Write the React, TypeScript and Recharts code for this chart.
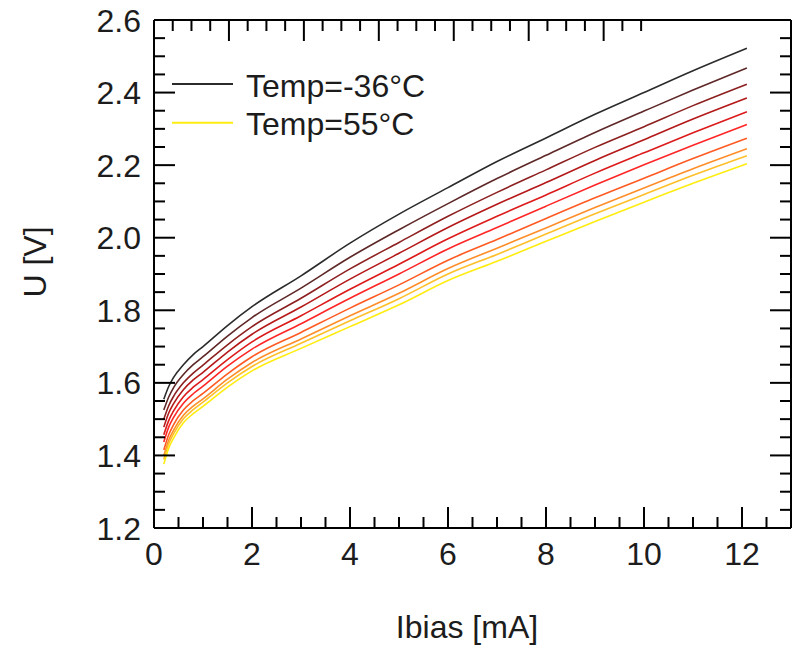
import React from 'react';
import { LineChart, Line, XAxis, YAxis, Legend } from 'recharts';

// Bias current [mA]
const IBIAS = [0.2, 0.3, 0.4, 0.6, 0.8, 1, 1.5, 2, 3, 4, 5, 6, 7, 8, 9, 10, 11, 12.1];

// Voltage curves [V], from coldest (-36°C) to hottest (55°C)
const U_T0 = [1.555, 1.59, 1.615, 1.65, 1.678, 1.7, 1.758, 1.81, 1.895, 1.985, 2.065, 2.138, 2.21, 2.275, 2.34, 2.4, 2.46, 2.522];
const U_T1 = [1.525, 1.561, 1.587, 1.623, 1.65, 1.672, 1.729, 1.78, 1.861, 1.946, 2.022, 2.094, 2.163, 2.227, 2.29, 2.349, 2.407, 2.468];
const U_T2 = [1.5, 1.537, 1.563, 1.6, 1.627, 1.649, 1.705, 1.755, 1.833, 1.914, 1.987, 2.059, 2.125, 2.187, 2.249, 2.306, 2.364, 2.423];
const U_T3 = [1.478, 1.517, 1.543, 1.581, 1.608, 1.629, 1.685, 1.734, 1.809, 1.886, 1.957, 2.028, 2.092, 2.152, 2.213, 2.27, 2.327, 2.385];
const U_T4 = [1.457, 1.496, 1.523, 1.562, 1.588, 1.609, 1.664, 1.713, 1.785, 1.858, 1.927, 1.997, 2.059, 2.118, 2.178, 2.234, 2.289, 2.347];
const U_T5 = [1.437, 1.478, 1.505, 1.544, 1.57, 1.591, 1.646, 1.693, 1.763, 1.833, 1.9, 1.969, 2.028, 2.087, 2.145, 2.201, 2.255, 2.312];
const U_T6 = [1.415, 1.457, 1.485, 1.525, 1.551, 1.571, 1.625, 1.672, 1.739, 1.806, 1.87, 1.938, 1.995, 2.053, 2.11, 2.164, 2.218, 2.274];
const U_T7 = [1.399, 1.442, 1.47, 1.511, 1.536, 1.556, 1.61, 1.656, 1.721, 1.785, 1.847, 1.915, 1.971, 2.027, 2.083, 2.137, 2.19, 2.245];
const U_T8 = [1.389, 1.432, 1.46, 1.501, 1.526, 1.547, 1.6, 1.645, 1.709, 1.771, 1.832, 1.9, 1.954, 2.01, 2.066, 2.119, 2.172, 2.226];
const U_T9 = [1.376, 1.42, 1.448, 1.49, 1.515, 1.535, 1.588, 1.633, 1.695, 1.755, 1.815, 1.882, 1.935, 1.99, 2.045, 2.098, 2.15, 2.204];

const SERIES = [U_T0, U_T1, U_T2, U_T3, U_T4, U_T5, U_T6, U_T7, U_T8, U_T9];
const COLORS = ['#2b2b2b', '#5e2828', '#8c2020', '#b41818', '#dc1a1a', '#ff2626', '#ff5a22', '#ff8e2a', '#ffbf2a', '#ffec10'];

const LEGEND_LABELS = ['Temp=-36°C', 'Temp=55°C'];
const X_MAJOR = [0, 2, 4, 6, 8, 10, 12];
const Y_MAJOR = [1.2, 1.4, 1.6, 1.8, 2.0, 2.2, 2.4, 2.6];
const X_TICKS = Array.from({ length: 27 }, (_, i) => i * 0.5);
const Y_TICKS = Array.from({ length: 29 }, (_, i) => Math.round((1.2 + i * 0.05) * 100) / 100);

const data = IBIAS.map((x, i) => {
  const row: any = { x };
  SERIES.forEach((s, k) => {
    row['c' + k] = s[i];
  });
  return row;
});

const FONT = 'Arial, "Liberation Sans", sans-serif';
const TXT = '#1c1c1c';
const FS = 32;
const MAJ = 21;
const MIN = 11;

const isMajX = (v: number) => X_MAJOR.some((m) => Math.abs(m - v) < 1e-6);
const isMajY = (v: number) => Y_MAJOR.some((m) => Math.abs(m - v) < 1e-6);

const BottomTick = (p: any) => {
  const { x, y, payload } = p;
  const v = payload.value;
  const major = isMajX(v);
  return (
    <g>
      <line x1={x} y1={y} x2={x} y2={y - (major ? MAJ : MIN)} stroke="#000" strokeWidth={2} />
      {major && (
        <text x={x} y={y + 37} textAnchor="middle" fontSize={FS} fontFamily={FONT} fill={TXT}>
          {String(v)}
        </text>
      )}
    </g>
  );
};

const TopTick = (p: any) => {
  const { x, y, payload } = p;
  const major = isMajX(payload.value);
  return <line x1={x} y1={y} x2={x} y2={y + (major ? MAJ : MIN)} stroke="#000" strokeWidth={2} />;
};

const LeftTick = (p: any) => {
  const { x, y, payload } = p;
  const v = payload.value;
  const major = isMajY(v);
  return (
    <g>
      <line x1={x} y1={y} x2={x + (major ? MAJ : MIN)} y2={y} stroke="#000" strokeWidth={2} />
      {major && (
        <text x={x - 13} y={y + 11.5} textAnchor="end" fontSize={FS} fontFamily={FONT} fill={TXT}>
          {v.toFixed(1)}
        </text>
      )}
    </g>
  );
};

const RightTick = (p: any) => {
  const { x, y, payload } = p;
  const major = isMajY(payload.value);
  return <line x1={x} y1={y} x2={x - (major ? MAJ : MIN)} y2={y} stroke="#000" strokeWidth={2} />;
};

const XTitle = (p: any) => {
  const vb = (p && p.viewBox) || { x: 154, y: 528, width: 637, height: 117 };
  return (
    <text x={vb.x + vb.width / 2 - 5.5} y={vb.y + 110} textAnchor="middle" fontSize={FS} fontFamily={FONT} fill={TXT}>
      Ibias [mA]
    </text>
  );
};

const YTitle = (p: any) => {
  const vb = (p && p.viewBox) || { x: 0, y: 20, width: 154, height: 508 };
  const cx = vb.x + 35;
  const cy = vb.y + vb.height / 2 - 12;
  return (
    <text
      x={cx}
      y={cy}
      transform={`rotate(-90, ${cx}, ${cy})`}
      textAnchor="middle"
      dominantBaseline="central"
      fontSize={FS}
      fontFamily={FONT}
      fill={TXT}
    >
      U [V]
    </text>
  );
};

const LegendBox = () => (
  <svg width={320} height={100} style={{ display: 'block', overflow: 'visible' }}>
    <line x1={0} y1={30} x2={61} y2={30} stroke={COLORS[0]} strokeWidth={2} />
    <text x={74} y={42.5} fontSize={FS} fontFamily={FONT} fill={TXT}>
      {LEGEND_LABELS[0]}
    </text>
    <line x1={0} y1={68.7} x2={61} y2={68.7} stroke={COLORS[9]} strokeWidth={2} />
    <text x={74} y={81} fontSize={FS} fontFamily={FONT} fill={TXT}>
      {LEGEND_LABELS[1]}
    </text>
  </svg>
);

export default function App() {
  return (
    <div style={{ position: 'absolute', left: 0, top: 0 }}>
      <LineChart width={798} height={645} data={data} margin={{ top: 19, right: 6, bottom: 0, left: 0 }}>
        <XAxis
          dataKey="x"
          type="number"
          domain={[0, 13]}
          ticks={X_TICKS}
          interval={0}
          allowDataOverflow
          height={117}
          tickSize={0}
          tickMargin={0}
          tickLine={false}
          axisLine={{ stroke: '#000', strokeWidth: 2 }}
          tick={<BottomTick />}
          label={XTitle}
        />
        <XAxis
          xAxisId="top"
          orientation="top"
          type="number"
          domain={[0, 13]}
          ticks={X_TICKS}
          interval={0}
          allowDataOverflow
          height={1}
          tickSize={0}
          tickMargin={0}
          tickLine={false}
          axisLine={{ stroke: '#000', strokeWidth: 2 }}
          tick={<TopTick />}
        />
        <YAxis
          type="number"
          domain={[1.2, 2.6]}
          ticks={Y_TICKS}
          interval={0}
          allowDataOverflow
          width={154}
          tickSize={0}
          tickMargin={0}
          tickLine={false}
          axisLine={{ stroke: '#000', strokeWidth: 2 }}
          tick={<LeftTick />}
          label={YTitle}
        />
        <YAxis
          yAxisId="right"
          orientation="right"
          type="number"
          domain={[1.2, 2.6]}
          ticks={Y_TICKS}
          interval={0}
          allowDataOverflow
          width={1}
          tickSize={0}
          tickMargin={0}
          tickLine={false}
          axisLine={{ stroke: '#000', strokeWidth: 2 }}
          tick={<RightTick />}
        />
        {SERIES.map((_, k) => (
          <Line
            key={k}
            dataKey={'c' + k}
            type="monotone"
            stroke={COLORS[k]}
            strokeWidth={1.6}
            dot={false}
            isAnimationActive={false}
          />
        ))}
        <Legend
          layout="vertical"
          align="center"
          verticalAlign="middle"
          wrapperStyle={{ left: 172, top: 54, width: 320, height: 100 }}
          content={LegendBox}
        />
      </LineChart>
    </div>
  );
}
